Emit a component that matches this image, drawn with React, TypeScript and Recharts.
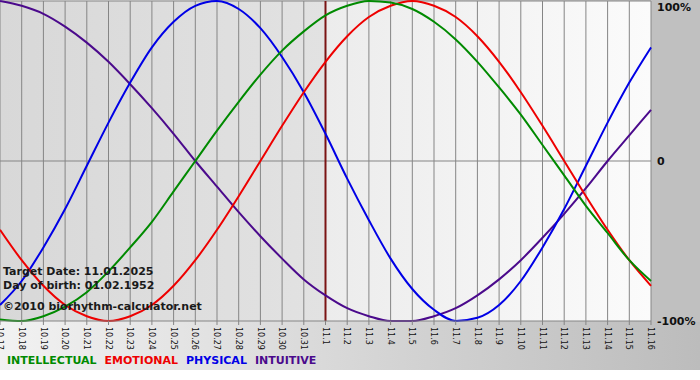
import React from 'react';
import { LineChart, Line, XAxis, YAxis, CartesianGrid, ReferenceLine } from 'recharts';

const dates = [
  '10.17', '10.18', '10.19', '10.20', '10.21', '10.22', '10.23', '10.24', '10.25', '10.26',
  '10.27', '10.28', '10.29', '10.30', '10.31', '11.1', '11.2', '11.3', '11.4', '11.5',
  '11.6', '11.7', '11.8', '11.9', '11.10', '11.11', '11.12', '11.13', '11.14', '11.15', '11.16',
];

const intellectual = [
  -99, -100, -97, -91, -82, -69, -54, -38, -19, 0,
  19, 37, 54, 69, 81, 91, 97, 100, 99, 95,
  87, 76, 62, 46, 29, 10, -9, -28, -45, -62, -75,
];

const emotional = [
  -43, -62, -78, -90, -97, -100, -97, -90, -78, -62,
  -43, -22, 0, 22, 43, 62, 78, 90, 97, 100,
  97, 90, 78, 62, 43, 22, 0, -22, -43, -62, -78,
];

const physical = [
  -90, -75, -54, -30, -3, 24, 49, 71, 87, 97,
  100, 95, 83, 65, 43, 17, -11, -37, -61, -80,
  -93, -100, -98, -90, -75, -54, -30, -3, 24, 49, 71,
];

const intuitive = [
  100, 97, 92, 84, 74, 62, 48, 33, 17, 0,
  -16, -32, -47, -61, -74, -84, -92, -97, -100, -100,
  -97, -92, -84, -74, -62, -48, -33, -17, 0, 16, 32,
];

const targetDate = '11.1';
const yTicks = [100, 0, -100];

const infoLines = ['Target Date: 11.01.2025', 'Day of birth: 01.02.1952', '\u00a92010 biorhythm-calculator.net'];

const legendItems = [
  { name: 'INTELLECTUAL', color: '#008a00' },
  { name: 'EMOTIONAL', color: '#ee0000' },
  { name: 'PHYSICAL', color: '#0000e6' },
  { name: 'INTUITIVE', color: '#4b0a8c' },
];

const data = dates.map((date, i) => ({
  date,
  intellectual: intellectual[i],
  emotional: emotional[i],
  physical: physical[i],
  intuitive: intuitive[i],
}));

const font = '"DejaVu Sans", Verdana, sans-serif';

const DateTick = (props: any) => {
  const { x, y, payload } = props;
  return (
    <g transform={`translate(${x},${y})`}>
      <text transform="rotate(90)" x={0} y={0} dy="0.35em" textAnchor="start"
        fontSize={8} fontFamily={font} fill="#111">
        {payload.value}
      </text>
    </g>
  );
};

const PercentTick = (props: any) => {
  const { x, y, payload } = props;
  const label = payload.value === 0 ? '0' : `${payload.value}%`;
  return (
    <text x={x} y={Math.max(y, 7)} dy="0.36em" textAnchor="start"
      fontSize={11} fontWeight="bold" fontFamily={font} fill="#111">
      {label}
    </text>
  );
};

export default function App() {
  return (
    <div style={{ position: 'absolute', left: 0, top: 0, width: 700, height: 380, background: '#fff', overflow: 'hidden' }}>
      <div style={{ position: 'absolute', left: 0, top: 0, width: 700, height: 370, background: 'linear-gradient(to right, #f2f2f2, #bcbcbc)' }} />
      <div style={{ position: 'absolute', left: 651, top: 0, width: 49, height: 322, background: '#c0c0c0' }} />
      <div style={{ position: 'absolute', left: 0, top: 0 }}>
        <LineChart width={700} height={380} data={data} margin={{ top: 1, right: 0, left: 0, bottom: 0 }}>
          <defs>
            <linearGradient id="plotBg" x1="0" y1="0" x2="1" y2="0">
              <stop offset="0" stopColor="#d8d8d8" />
              <stop offset="0.499" stopColor="#e2e2e2" />
              <stop offset="0.499" stopColor="#ececec" />
              <stop offset="1" stopColor="#fbfbfb" />
            </linearGradient>
          </defs>
          <CartesianGrid horizontal={false} stroke="#858585" fill="url(#plotBg)" fillOpacity={1} />
          <XAxis dataKey="date" interval={0} height={59} tick={<DateTick />}
            tickSize={4} tickMargin={2} stroke="#858585" axisLine={{ stroke: '#858585' }} />
          <YAxis orientation="right" width={49} domain={[-100, 100]} ticks={yTicks} interval={0}
            axisLine={false} tickLine={false} tickSize={0} tickMargin={6} tick={<PercentTick />} />
          <ReferenceLine y={0} stroke="#858585" />
          <ReferenceLine y={100} stroke="#858585" />
          <ReferenceLine x={targetDate} stroke="#7a1414" strokeWidth={2} />
          <Line type="monotone" dataKey="intuitive" stroke="#4b0a8c" strokeWidth={2} dot={false} isAnimationActive={false} />
          <Line type="monotone" dataKey="physical" stroke="#0000e6" strokeWidth={2} dot={false} isAnimationActive={false} />
          <Line type="monotone" dataKey="emotional" stroke="#ee0000" strokeWidth={2} dot={false} isAnimationActive={false} />
          <Line type="monotone" dataKey="intellectual" stroke="#008a00" strokeWidth={2} dot={false} isAnimationActive={false} />
        </LineChart>
      </div>
      <div style={{ position: 'absolute', left: 3, top: 265, fontFamily: font, fontSize: 11, fontWeight: 'bold', color: '#1a1a1a', lineHeight: '14px' }}>
        <div>{infoLines[0]}</div>
        <div>{infoLines[1]}</div>
        <div style={{ marginTop: 7 }}>{infoLines[2]}</div>
      </div>
      <div style={{ position: 'absolute', left: 7, top: 354, fontFamily: font, fontSize: 11, fontWeight: 'bold', display: 'flex', gap: 8, whiteSpace: 'nowrap' }}>
        {legendItems.map((it) => (
          <span key={it.name} style={{ color: it.color }}>{it.name}</span>
        ))}
      </div>
    </div>
  );
}
